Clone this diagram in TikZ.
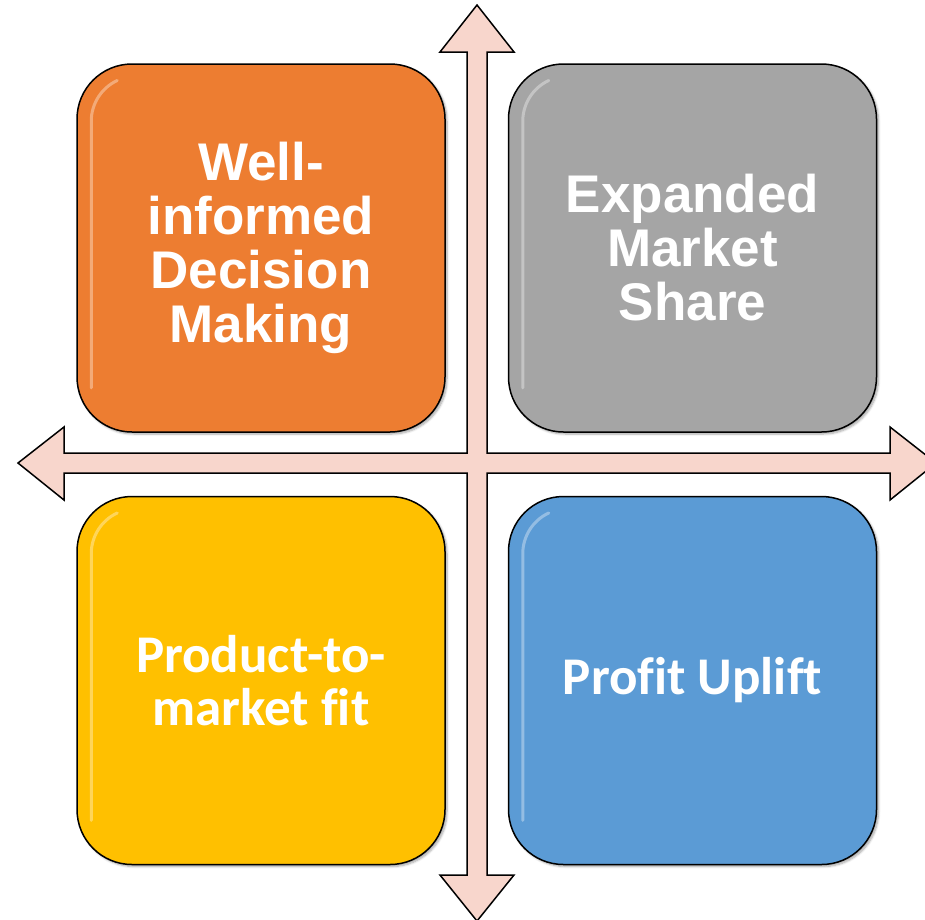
\documentclass[tikz,border=0pt]{standalone}
\usepackage{fontspec}
\setmainfont{Liberation Sans}
\newfontfamily\carlito[Ligatures=NoCommon]{Carlito}
\usetikzlibrary{positioning, shadows.blur}

\definecolor{axispink}{HTML}{F8D6CC}
\definecolor{boxorange}{HTML}{ED7D31}
\definecolor{boxgray}{HTML}{A5A5A5}
\definecolor{boxyellow}{HTML}{FFC000}
\definecolor{boxblue}{HTML}{5B9BD5}

\tikzset{
  quadbox/.style={draw=black, line width=1.5pt, rounded corners=55pt,
    minimum width=368pt, minimum height=368pt, inner sep=0pt,
    text=white, align=center,
    blur shadow={shadow xshift=2pt, shadow yshift=-2pt, shadow blur steps=6, shadow opacity=35}},
  arialtext/.style={font=\bfseries\fontsize{53}{54}\selectfont},
  calibritext/.style={font=\carlito\bfseries\fontsize{53}{53}\selectfont},
  gloss/.style={white, opacity=.35, line width=3pt, line cap=round}
}

\begin{document}
\begin{tikzpicture}[x=1pt, y=-1pt]
\clip (0,0) rectangle (925,919);

% draw the cross of arrows
\draw[fill=axispink, line width=1.5pt, line join=miter]
  (477,5) -- (514,52) -- (487,52) -- (487,453) -- (890,453) -- (890,427)
  -- (936,463) -- (890,500) -- (890,473) -- (487,473) -- (487,875)
  -- (514,875) -- (477,921) -- (440,875) -- (467,875) -- (467,473)
  -- (64,473) -- (64,500) -- (18,463) -- (64,427) -- (64,453)
  -- (467,453) -- (467,52) -- (440,52) -- cycle;

% QUADRANTS
\node[quadbox, fill=boxorange, arialtext] (decision) at (261,248)
  {Well-\\informed\\Decision\\Making};
\node[quadbox, fill=boxgray, arialtext, right=62pt of decision] (share)
  {Expanded\\Market\\Share};
\node[quadbox, fill=boxyellow, calibritext, below=63pt of decision] (fit)
  {Product-to-\\market fit};
\node[quadbox, fill=boxblue, calibritext, below=63pt of share] (profit)
  {Profit Uplift};

% gloss on the left edges
\foreach \b in {decision,share,fit,profit}
\draw[gloss] ([shift={(15,-45)}]\b.south west) -- ([shift={(15,58)}]\b.north west)
  arc[start angle=180, end angle=115, radius=45pt];

\end{tikzpicture}
\end{document}
